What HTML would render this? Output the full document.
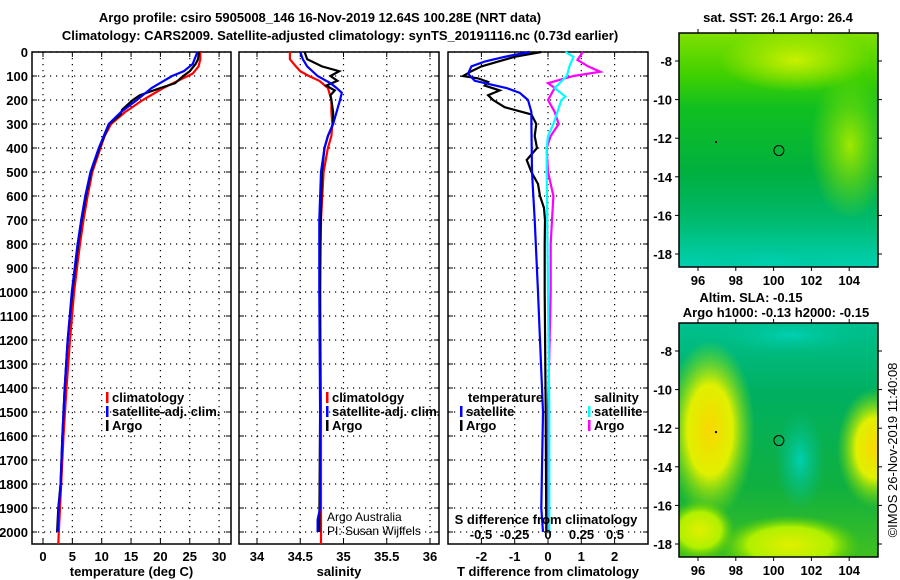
<!DOCTYPE html>
<html><head><meta charset="utf-8"><style>
body{margin:0;background:#fff;}
svg{display:block;font-family:"Liberation Sans",sans-serif;}
.b{font-weight:bold;font-size:13px;}
.t{font-weight:bold;font-size:13px;}
.n{font-weight:normal;font-size:12px;}
</style></head><body>
<svg id="s" width="900" height="580" viewBox="0 0 900 580">
<defs>
<clipPath id="clipTop"><rect x="679" y="33" width="199" height="234"/></clipPath>
<clipPath id="clipBot"><rect x="679" y="323" width="199" height="234"/></clipPath>
<linearGradient id="sstBase" x1="0" y1="0" x2="0" y2="1">
<stop offset="0" stop-color="#80e000"/><stop offset="0.18" stop-color="#40d000"/><stop offset="0.32" stop-color="#10c020"/><stop offset="0.6" stop-color="#00b040"/><stop offset="0.78" stop-color="#00b868"/><stop offset="1" stop-color="#00d0b0"/>
</linearGradient>
<radialGradient id="sstYel" cx="0.5" cy="0.5" r="0.5"><stop offset="0" stop-color="#c8f000" stop-opacity="1"/><stop offset="1" stop-color="#c8f000" stop-opacity="0"/></radialGradient>
<radialGradient id="sstRight" cx="0.5" cy="0.5" r="0.5"><stop offset="0" stop-color="#a0e800" stop-opacity="1"/><stop offset="1" stop-color="#80e000" stop-opacity="0"/></radialGradient>
<linearGradient id="slaBase" x1="0" y1="0" x2="0" y2="1">
<stop offset="0" stop-color="#00c090"/><stop offset="0.3" stop-color="#00b060"/><stop offset="0.7" stop-color="#10b040"/><stop offset="1" stop-color="#40c020"/>
</linearGradient>
<radialGradient id="yel" cx="0.5" cy="0.5" r="0.5"><stop offset="0" stop-color="#f8d800"/><stop offset="0.5" stop-color="#e0f000"/><stop offset="1" stop-color="#80e000" stop-opacity="0"/></radialGradient>
<radialGradient id="lime" cx="0.5" cy="0.5" r="0.5"><stop offset="0" stop-color="#e0f000"/><stop offset="0.6" stop-color="#b0f000"/><stop offset="1" stop-color="#60d000" stop-opacity="0"/></radialGradient>
<radialGradient id="teal" cx="0.5" cy="0.5" r="0.5"><stop offset="0" stop-color="#00d0b0"/><stop offset="1" stop-color="#00c090" stop-opacity="0"/></radialGradient>
</defs>
</svg>
<script>
// ---- data ----
const tempDepth=[0,30,60,90,120,150,200,250,300,350,400,500,600,700,800,900,1000,1200,1400,1600,1800,2000,2050];
const tempClim=[26.8,26.8,26.5,25.5,23,20.5,17,14,11.6,10.5,9.8,8.4,7.6,6.9,6.3,5.8,5.3,4.6,4.0,3.5,3.1,2.7,2.6];
const tempSatDepth=[0,50,80,100,150,200,250,300,400,500,600,700,800,1000,1200,1400,1600,1800,1900,2000];
const tempSat=[26.3,25.5,24,22,18.5,16,13.3,11.2,9.5,8.1,7.2,6.5,5.9,4.9,4.2,3.7,3.3,3.0,2.7,2.5];
const argoDepth=[0,30,50,80,100,130,150,180,200,240,260,300,400,500,600,700,800,1000,1200,1400,1600,1800,1900,2000];
const tempArgo=[26.6,26.4,26,25,23.9,22.5,20,16.5,15.3,13.5,13.2,11.3,9.6,8.2,7.3,6.6,6.0,5.0,4.2,3.7,3.3,3.0,2.6,2.4];
const salClimDepth=[0,30,60,80,100,120,150,200,250,300,350,400,500,700,1000,1500,2000,2050];
const salClim=[34.38,34.38,34.45,34.5,34.6,34.72,34.82,34.86,34.86,34.87,34.86,34.82,34.77,34.74,34.73,34.74,34.74,34.74];
const salSatDepth=[0,30,60,100,130,150,170,200,250,300,350,400,500,700,1000,1500,1900,1950,2000];
const salSat=[34.5,34.53,34.58,34.7,34.85,34.92,34.98,34.96,34.92,34.88,34.82,34.78,34.74,34.72,34.72,34.73,34.73,34.7,34.7];
const salArgoDepth=[0,30,60,80,100,120,140,160,180,200,250,300,350,400,500,800,1500,2000];
const salArgo=[34.55,34.58,34.75,34.95,34.85,34.93,34.8,34.9,34.85,34.86,34.88,34.88,34.82,34.78,34.75,34.73,34.73,34.72];
const tdArgoDepth=[0,20,40,60,80,100,110,125,140,160,180,200,230,260,300,350,400,450,500,550,600,650,700,800,1000,1500,2000];
const tdArgo=[-0.2,-1.0,-1.5,-2.0,-2.3,-2.55,-2.1,-1.8,-1.9,-1.45,-1.8,-1.65,-1.3,-0.5,-0.35,-0.4,-0.33,-0.64,-0.5,-0.3,-0.24,-0.12,-0.09,-0.1,-0.1,-0.07,-0.05];
const tdSatDepth=[0,20,40,60,90,120,150,170,200,250,300,500,700,1000,1500,1900,2000];
const tdSat=[-0.55,-1.3,-1.9,-2.3,-2.4,-2.2,-1.25,-0.85,-0.6,-0.5,-0.5,-0.48,-0.4,-0.3,-0.15,-0.2,-0.15];
const sdArgoDepth=[0,33,60,82,100,130,150,200,250,300,350,400,500,600,700,800,1000,1500,2000];
const sdArgo=[0.26,0.22,0.3,0.39,0.19,0,0.05,0,0.05,0.08,0.02,-0.01,0,0.04,0.03,0.02,0.02,0.0,0.0];
const sdSatDepth=[0,20,60,100,150,186,200,250,300,350,400,500,1000,1500,2000];
const sdSat=[0.13,0.19,0.16,0.14,0.05,0.13,0.1,0.07,0.04,0.0,-0.01,-0.01,0,0.01,0.01];
const depthTicks=[0,100,200,300,400,500,600,700,800,900,1000,1100,1200,1300,1400,1500,1600,1700,1800,1900,2000];
const tempTicks=[0,5,10,15,20,25,30];
const salTicks=[34,34.5,35,35.5,36];
const tdTicks=[-2,-1,0,1,2];
const sdTicks=[-0.5,-0.25,0,0.25,0.5];
const lonTicks=[96,98,100,102,104];
const latTicks=[-8,-10,-12,-14,-16,-18];

const NS='http://www.w3.org/2000/svg';
const svg=document.getElementById('s');
function mk(tag,attrs,parent){const e=document.createElementNS(NS,tag);for(const k in attrs)e.setAttribute(k,attrs[k]);(parent||svg).appendChild(e);return e;}
function txt(x,y,s,anchor,cls,parent){const e=mk('text',{x:x,y:y,'text-anchor':anchor||'middle',class:cls||'b'},parent);e.textContent=s;return e;}

const yTop=52, yBot=544;
const yD=d=>yTop+d*0.24;

function panel(name,x0,x1,xf,ticks,fmt,label){
  const g=mk('g',{});
  
  
  ticks.forEach(v=>{const x=xf(v);mk('line',{x1:x,y1:yTop,x2:x,y2:yBot,stroke:'#000','stroke-width':1.2,'stroke-dasharray':'1.2,4.8'},g);
    mk('line',{x1:x,y1:yBot,x2:x,y2:yBot-5,stroke:'#000'},g);mk('line',{x1:x,y1:yTop,x2:x,y2:yTop+5,stroke:'#000'},g);
    const t=txt(x,561,fmt(v),'middle','t',g);});
  depthTicks.forEach(d=>{const y=yD(d);mk('line',{x1:x0,y1:y,x2:x1,y2:y,stroke:'#000','stroke-width':1.2,'stroke-dasharray':'1.2,4.8'},g);
    mk('line',{x1:x0,y1:y,x2:x0+5,y2:y,stroke:'#000'},g);mk('line',{x1:x1,y1:y,x2:x1-5,y2:y,stroke:'#000'},g);});
  mk('rect',{x:x0,y:yTop,width:x1-x0,height:yBot-yTop,fill:'none',stroke:'#000','stroke-width':1.5},g);
  if(label){const l=txt((x0+x1)/2,576,label,'middle','b',g);}
  return g;
}
function line(g,xs,ds,xf,color,name){
  const p=xs.map((v,i)=>xf(v).toFixed(1)+','+yD(ds[i]).toFixed(1)).join(' ');
  const e=mk('polyline',{points:p,fill:'none',stroke:color,'stroke-width':2.2},g);
  
  
}
function legend(g,x,y,color,label){
  mk('rect',{x:x,y:y-10,width:2.5,height:11,fill:color},g);
  const t=txt(x+6,y,label,'start','b',g);
  
  
}

depthTicks.forEach(d=>{const t=txt(28,yD(d)+5,String(d),'end','t');});

const xT=v=>43+v*5.87;
const p1=panel('temperature-panel',32,231,xT,tempTicks,String,'temperature (deg C)');
line(p1,tempClim,tempDepth,xT,'#f00','climatology-temp-line');
line(p1,tempArgo,argoDepth,xT,'#000','argo-temp-line');
line(p1,tempSat,tempSatDepth,xT,'#00f','satellite-temp-line');
legend(p1,106,402,'#f00','climatology');
legend(p1,106,416,'#00f','satellite-adj. clim.');
legend(p1,106,430,'#000','Argo');

const xS=v=>257+(v-34)*86.5;
const p2=panel('salinity-panel',239,439,xS,salTicks,String,'salinity');
line(p2,salClim,salClimDepth,xS,'#f00','climatology-sal-line');
line(p2,salArgo,salArgoDepth,xS,'#000','argo-sal-line');
line(p2,salSat,salSatDepth,xS,'#00f','satellite-sal-line');
legend(p2,326,402,'#f00','climatology');
legend(p2,326,416,'#00f','satellite-adj. clim.');
legend(p2,326,430,'#000','Argo');
let c1=txt(327,521,'Argo Australia','start','n',p2);
let c2=txt(327,535,'PI: Susan Wijffels','start','n',p2);

const xTD=v=>548+v*33.3;
const xSD=v=>548+v*134;
const p3=panel('difference-panel',448,648,xTD,tdTicks,String,'T difference from climatology');
line(p3,tdArgo,tdArgoDepth,xTD,'#000','argo-tdiff-line');
line(p3,tdSat,tdSatDepth,xTD,'#00f','satellite-tdiff-line');
line(p3,sdArgo,sdArgoDepth,xSD,'#f0f','argo-sdiff-line');
line(p3,sdSat,sdSatDepth,xSD,'#0ff','satellite-sdiff-line');
let lt=txt(468,402,'temperature','start','b',p3);
let ls=txt(594,402,'salinity','start','b',p3);
legend(p3,460,416,'#00f','satellite');
legend(p3,460,430,'#000','Argo');
legend(p3,588,416,'#0ff','satellite');
legend(p3,588,430,'#f0f','Argo');
let st=txt(546,524,'S difference from climatology','middle','b',p3);
sdTicks.forEach(v=>{const t=txt(xSD(v),539,String(v),'middle','t',p3);});

let t1=txt(320,22,'Argo profile: csiro 5905008_146 16-Nov-2019 12.64S 100.28E (NRT data)','middle','b');t1.setAttribute('font-size','14');
let t2=txt(340,40,'Climatology: CARS2009. Satellite-adjusted climatology: synTS_20191116.nc (0.73d earlier)','middle','b');t2.setAttribute('font-size','14');

const lonX=v=>698+(v-96)*18.9;
function map(name,y0,latY,clip,fill){
  const g=mk('g',{});
  
  
  const fg=mk('g',{'clip-path':'url(#'+clip+')'},g);
  fill(fg);
  mk('rect',{x:679,y:y0,width:199,height:234,fill:'none',stroke:'#000','stroke-width':1.5},g);
  lonTicks.forEach(v=>{const x=lonX(v);mk('line',{x1:x,y1:y0,x2:x,y2:y0-4,stroke:'#000'},g);mk('line',{x1:x,y1:y0+234,x2:x,y2:y0+238,stroke:'#000'},g);
    const t=txt(x,y0+252,String(v),'middle','t',g);});
  latTicks.forEach(v=>{const y=latY(v);mk('line',{x1:679,y1:y,x2:675,y2:y,stroke:'#000'},g);mk('line',{x1:878,y1:y,x2:882,y2:y,stroke:'#000'},g);
    const t=txt(672,y+5,String(v),'end','t',g);});
  const c=mk('circle',{cx:lonX(100.28),cy:latY(-12.64),r:5,fill:'none',stroke:'#000','stroke-width':1},g);
  
  
  mk('rect',{x:lonX(96.9),y:latY(-12.2)-1,width:2,height:2,fill:'#000'},g);
  return g;
}
const latTop=v=>61+(-8-v)*19.3;
map('sst-map',33,latTop,'clipTop',g=>{
  mk('rect',{x:679,y:33,width:199,height:234,fill:'url(#sstBase)'},g);
  mk('ellipse',{cx:795,cy:60,rx:75,ry:32,fill:'url(#sstYel)'},g);
  mk('ellipse',{cx:850,cy:145,rx:40,ry:75,fill:'url(#sstRight)'},g);
  mk('ellipse',{cx:770,cy:262,rx:70,ry:20,fill:'url(#teal)'},g);
});
let mt1=txt(778,22,'sat. SST: 26.1 Argo: 26.4','middle','b');

const latBot=v=>351+(-8-v)*19.3;
map('sla-map',323,latBot,'clipBot',g=>{
  mk('rect',{x:679,y:323,width:199,height:234,fill:'url(#slaBase)'},g);
  mk('ellipse',{cx:710,cy:430,rx:45,ry:90,fill:'url(#yel)'},g);
  mk('ellipse',{cx:875,cy:448,rx:38,ry:60,fill:'url(#yel)'},g);
  mk('ellipse',{cx:790,cy:545,rx:70,ry:30,fill:'url(#lime)'},g);
  mk('ellipse',{cx:700,cy:530,rx:35,ry:30,fill:'url(#lime)'},g);
  mk('ellipse',{cx:800,cy:460,rx:25,ry:50,fill:'url(#teal)'},g);
  mk('ellipse',{cx:790,cy:335,rx:80,ry:20,fill:'url(#teal)'},g);
});
let mt2=txt(751,302,'Altim. SLA: -0.15','middle','b');
let mt3=txt(776,317,'Argo h1000: -0.13 h2000: -0.15','middle','b');
let cp=mk('text',{x:0,y:0,'text-anchor':'middle',transform:'translate(897,450) rotate(-90)','font-size':'13'});
cp.textContent='©IMOS 26-Nov-2019 11:40:08';


</script>
</body></html>
